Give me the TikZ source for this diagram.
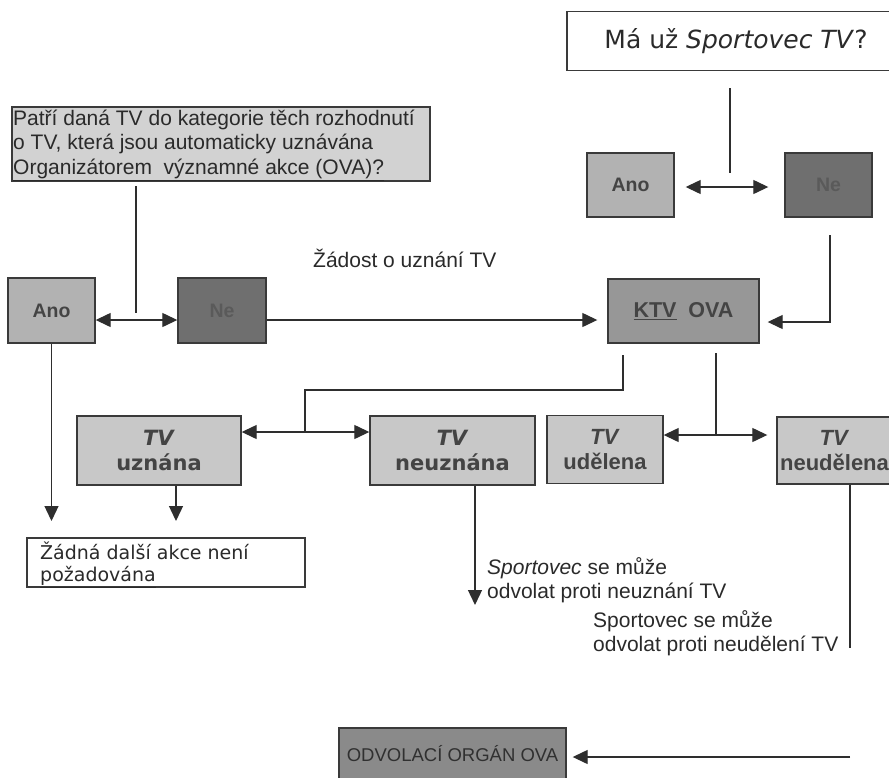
\documentclass[tikz,border=0pt]{standalone}
\usepackage{fontspec}
\setmainfont{Liberation Sans}
\newfontfamily\dvs{DejaVu Sans}[ItalicFont={DejaVu Sans Oblique},BoldFont={DejaVu Sans Bold},BoldItalicFont={DejaVu Sans Bold Oblique}]
\usetikzlibrary{arrows.meta}
\definecolor{bordc}{HTML}{3A3A3A}
\definecolor{lnc}{HTML}{2E2E2E}
\definecolor{qfill}{HTML}{D2D2D2}
\definecolor{tvfill}{HTML}{C8C8C8}
\definecolor{anofill}{HTML}{B2B2B2}
\definecolor{nefill}{HTML}{6F6F6F}
\definecolor{ktvfill}{HTML}{979797}
\definecolor{odvfill}{HTML}{8A8A8A}
\definecolor{txt}{HTML}{2A2A2A}
\definecolor{boxtxt}{HTML}{444444}
\definecolor{netxt}{HTML}{5A5A5A}
\definecolor{odvtxt}{HTML}{303030}
\begin{document}
\begin{tikzpicture}[x=1pt,y=-1pt,
  box/.style={draw=bordc, line width=1.4pt, inner sep=0pt, align=center},
  ln/.style={draw=lnc, line width=1.3pt},
  arr/.style={ln, -{Triangle[length=15pt,width=14pt]}},
  dbl/.style={ln, {Triangle[length=15pt,width=14pt]}-{Triangle[length=15pt,width=14pt]}},
  lbl/.style={inner sep=0pt, text=txt, align=left, font=\fontsize{21}{24.5}\selectfont},
  anobox/.style={box, fill=anofill, text=boxtxt, minimum width=87pt, minimum height=64pt, font=\bfseries\fontsize{19.5}{22}\selectfont},
  nebox/.style={box, fill=nefill, text=netxt, minimum width=87pt, minimum height=64pt, font=\bfseries\fontsize{19.5}{22}\selectfont},
  tvbox/.style={box, fill=tvfill, text=boxtxt, minimum height=69pt, font=\dvs\bfseries\fontsize{21}{25}\selectfont},
  tvboxb/.style={box, fill=tvfill, text=boxtxt, minimum height=68pt, font=\bfseries\fontsize{22}{25}\selectfont}
]
\useasboundingbox (0,0) rectangle (889,777);
\fill[white] (0,0) rectangle (889,777);

% top right question
\node[box, fill=white, text=txt, minimum width=338pt, minimum height=59pt, font=\dvs\fontsize{25}{30}\selectfont] (q1) at (736,41) {Má už \textit{Sportovec TV}?};
\coordinate (q1a) at (730,88);
\coordinate (q1b) at (730,173);
\draw[ln] (q1a) -- (q1b);
\node[anobox] (anoR) at (630.5,185) {Ano};
\node[nebox] (neR) at (828.5,185) {Ne};
\coordinate (rowA) at (0,187);
\draw[dbl, shorten <=11pt, shorten >=16pt] (anoR.east |- rowA) -- (neR.west |- rowA);

% left question
\node[box, fill=qfill, minimum width=418pt, minimum height=74pt] (q2) at (221,144) {};
\node[lbl, anchor=west] (q2t) at (13,145) {Patří daná TV do kategorie těch rozhodnutí\\o TV, která jsou automaticky uznávána\\\underline{Organizátorem\ \ významné akce (OVA)?}};
\coordinate (q2a) at (136,186);
\coordinate (q2b) at (136,313);
\draw[ln] (q2a) -- (q2b);

% row B
\node[anobox, minimum height=65pt] (anoL) at (51.5,310.5) {Ano};
\node[nebox, minimum width=88pt, minimum height=65pt] (neL) at (222,310.5) {Ne};
\node[box, fill=ktvfill, text=boxtxt, minimum width=151pt, minimum height=64pt, font=\bfseries\fontsize{21.5}{24}\selectfont] (ktv) at (683.5,311) {\underline{KTV}\ \ OVA};
\coordinate (rowB) at (0,320);
\draw[dbl] (anoL.east |- rowB) -- (neL.west |- rowB);
\draw[arr, shorten >=10pt] (neL.east |- rowB) -- (ktv.west |- rowB);
\node[lbl, anchor=west] (zadost) at (313,258) {Žádost o uznání TV};
\coordinate (neRb) at (830,235);
\draw[arr, shorten >=8pt] (neRb) |- (ktv.east |- 0,322);

% TV boxes
\node[tvbox, minimum width=164pt] (uzn) at (159,450.5) {\textit{TV}\\uznána};
\node[tvbox, minimum width=165pt] (neuzn) at (452.5,450.5) {\textit{TV}\\neuznána};
\node[tvboxb, minimum width=116pt] (ude) at (605,449.5) {\textit{TV}\\udělena};
\node[tvboxb, minimum width=115pt, minimum height=67pt] (neude) at (834.5,450.5) {\textit{TV}\\neudělena};

\coordinate (k1) at (623,355);
\coordinate (j3) at (305,432);
\draw[ln] (k1) |- (305,390) -- (j3);
\draw[dbl] (uzn.east |- j3) -- (neuzn.west |- j3);
\coordinate (k2) at (716,353);
\coordinate (j4) at (716,435);
\draw[ln] (k2) -- (j4);
\draw[dbl, shorten >=9pt] (ude.east |- j4) -- (neude.west |- j4);

% down arrows
\coordinate (e1) at (51.5,521);
\draw[arr] (anoL.south) -- (e1);
\coordinate (e2) at (176,521);
\draw[arr] (uzn.south -| e2) -- (e2);
\coordinate (e3) at (475,605);
\draw[arr] (neuzn.south -| e3) -- (e3);
\coordinate (e4) at (850,648);
\draw[ln] (neude.south -| e4) -- (e4);

% no further action
\node[box, fill=white, minimum width=278pt, minimum height=49pt] (zb) at (166,562.5) {};
\node[inner sep=0pt, anchor=west, align=left, text=txt, font=\dvs\fontsize{19}{22}\selectfont] (zbt) at (40,565) {Žádná další akce není\\\underline{požadována}};

% labels
\node[lbl, anchor=west] (s1) at (487,580) {\textit{Sportovec} se může\\odvolat proti neuznání TV};
\node[lbl, anchor=west] (s2) at (593,633) {Sportovec se může\\odvolat proti neudělení TV};

% appeal body
\node[box, fill=odvfill, text=odvtxt, minimum width=227pt, minimum height=52pt, font=\fontsize{18.5}{22}\selectfont] (odv) at (452.5,754) {ODVOLACÍ ORGÁN OVA};
\coordinate (o1) at (850,757);
\draw[arr, shorten >=6pt] (o1) -- (odv.east |- o1);
\end{tikzpicture}
\end{document}
